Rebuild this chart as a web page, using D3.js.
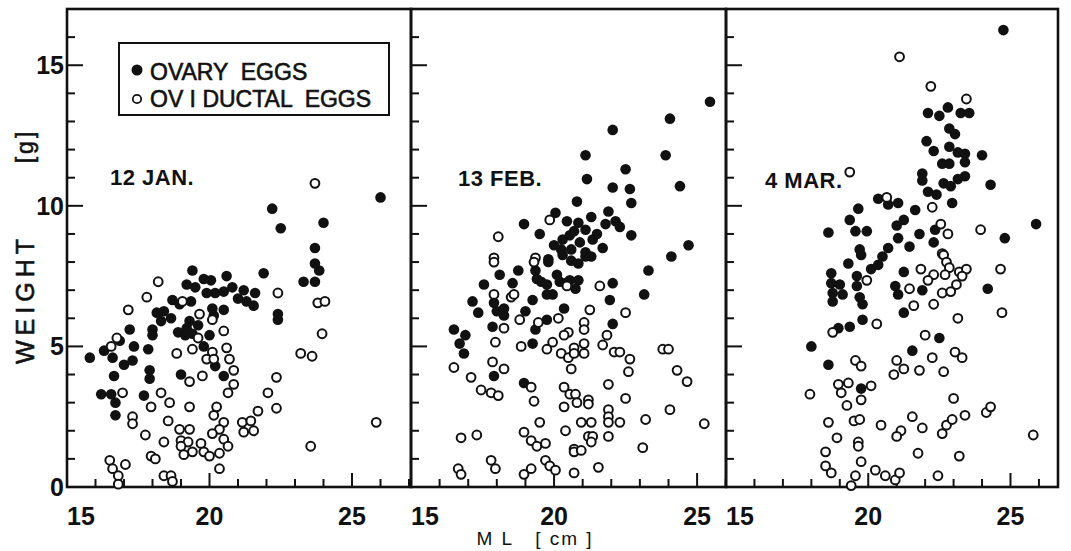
<!DOCTYPE html>
<html>
<head>
<meta charset="utf-8">
<script src="https://cdn.jsdelivr.net/npm/d3@7"></script>
<style>
  body { margin: 0; background: #fff; }
  svg { display: block; }
  text { font-family: "Liberation Sans", Arial, sans-serif; fill: #111; }
  .heavy { stroke: #111; stroke-width: 0.6px; }
</style>
</head>
<body>
<div id="chart"></div>
<script>
// [ML cm, weight g]
var janOvary = [[26.0,10.3],[22.2,9.9],[22.5,9.2],[24.0,9.4],[23.7,8.5],[23.7,7.95],[23.85,7.7],[23.3,7.3],[23.7,7.3],[21.9,7.6],
  [19.4,7.7],[19.2,7.2],[19.5,7.1],[19.8,7.4],[20.05,7.35],[20.6,7.5],[20.8,7.1],[19.9,6.9],[20.2,6.9],[20.5,6.95],[21.2,7.0],
  [21.6,6.9],[21.0,6.7],[21.3,6.6],[21.55,6.45],[18.7,6.65],[18.95,6.5],[19.35,6.6],[18.15,6.2],[18.4,6.25],[18.3,5.9],[18.65,6.0],
  [20.1,6.35],[20.5,6.3],[20.15,6.1],[22.4,6.15],[22.4,5.95],[19.3,5.9],[19.2,5.65],[19.6,5.75],[18.9,5.5],[19.15,5.4],[19.4,5.45],
  [20.0,5.4],[18.0,5.6],[18.0,5.4],[17.2,5.6],[16.85,5.2],[17.35,5.0],[16.3,4.85],[16.6,4.6],[15.8,4.6],[17.85,4.9],[17.3,4.5],
  [17.0,4.35],[19.8,5.0],[20.2,4.3],[17.9,4.15],[17.9,3.85],[16.65,3.95],[19.0,4.0],[20.5,3.95],[16.2,3.3],[16.55,3.3],[16.7,3.0],
  [17.7,3.25],[16.7,2.55]];
var janOviduct = [[23.7,10.8],[18.2,7.3],[17.8,6.75],[17.15,6.3],[19.05,6.6],[19.65,6.15],[20.1,5.95],[20.5,5.55],[19.6,5.3],[19.4,4.9],
  [18.85,4.75],[20.1,4.8],[20.6,4.95],[19.9,4.55],[20.15,4.55],[20.7,4.55],[20.85,4.15],[19.75,3.95],[19.3,3.75],[20.85,3.65],
  [20.65,3.35],[18.3,3.35],[18.6,3.0],[17.95,2.85],[19.3,2.85],[20.25,2.85],[20.15,2.55],[20.5,2.3],[18.55,2.35],[17.3,2.5],
  [17.3,2.25],[17.75,1.85],[16.95,3.35],[16.75,5.3],[16.55,5.0],[18.95,2.05],[19.3,2.05],[20.35,2.05],[20.1,1.9],[18.4,1.6],
  [19.0,1.65],[19.25,1.6],[19.7,1.55],[19.0,1.45],[19.4,1.25],[19.1,1.15],[19.8,1.25],[20.0,1.1],[20.35,1.2],[20.5,1.7],[20.65,1.45],
  [20.35,0.65],[21.15,2.3],[21.45,2.35],[21.2,1.95],[21.55,2.0],[21.7,2.7],[22.05,3.35],[22.35,2.8],[22.35,3.9],[22.4,6.9],
  [23.2,4.75],[23.6,4.65],[23.95,5.45],[23.8,6.55],[24.05,6.6],[23.55,1.45],[25.85,2.3],[16.5,0.95],[16.6,0.65],[17.05,0.8],
  [16.8,0.4],[16.8,0.1],[17.95,1.1],[18.1,1.0],[18.4,0.4],[18.65,0.4],[18.7,0.2]];

var febOvary = [[25.45,13.7],[24.05,13.1],[22.05,12.7],[21.1,11.8],[23.9,11.8],[22.5,11.3],[21.15,10.95],[22.05,10.65],[22.65,10.6],
  [24.4,10.7],[22.7,10.1],[20.8,10.15],[20.05,9.75],[18.95,9.35],[19.5,9.0],[20.45,9.45],[20.85,9.4],[21.3,9.6],[21.9,9.8],[22.15,9.45],
  [22.3,9.25],[22.7,8.95],[21.8,9.35],[21.1,9.15],[20.55,8.95],[21.35,8.8],[21.7,8.5],[20.25,8.45],[20.6,8.45],[21.1,8.35],[24.7,8.6],
  [24.1,8.2],[19.8,8.1],[23.3,7.7],[23.15,6.85],[22.05,7.25],[21.95,6.65],[22.05,5.8],[19.8,8.0],[20.3,8.25],[20.6,8.05],[20.85,7.95],
  [21.1,8.2],[19.35,7.7],[19.4,7.4],[19.55,7.3],[19.75,7.2],[20.1,7.55],[20.2,7.3],[20.4,7.25],[20.55,7.35],[20.75,7.05],[20.85,7.35],
  [19.75,6.85],[19.95,6.85],[18.75,7.7],[18.55,7.25],[18.1,7.55],[17.55,7.2],[17.15,6.6],[17.35,6.2],[17.9,6.55],[18.0,6.25],
  [18.25,6.35],[18.25,6.1],[19.25,6.65],[19.0,6.25],[19.75,5.95],[19.35,5.6],[20.35,6.35],[17.85,5.7],[16.5,5.6],[16.9,5.4],
  [16.7,5.1],[16.85,4.75],[19.25,5.1],[17.9,3.95],[18.95,3.7],[20.3,8.8],[20.9,8.7],[21.5,9.0],[20.7,9.1],[21.3,8.2],[20.0,8.6]];
var febOviduct = [[19.85,9.5],[18.05,8.9],[17.9,8.15],[19.35,8.15],[17.9,8.0],[19.3,8.0],[21.6,7.15],[20.45,7.15],[17.9,6.85],
  [18.5,6.75],[18.6,6.85],[21.25,6.3],[22.5,6.2],[18.8,5.95],[20.15,6.0],[19.45,5.85],[21.05,5.85],[21.05,5.6],[18.25,5.65],[20.5,5.5],
  [20.35,5.4],[21.85,5.4],[19.95,5.15],[17.95,5.15],[18.85,5.0],[21.05,5.1],[21.7,5.05],[20.7,4.95],[19.75,4.9],[22.1,4.8],[22.3,4.8],
  [20.25,4.75],[20.5,4.6],[20.7,4.75],[21.05,4.75],[22.65,4.55],[23.8,4.9],[24.0,4.9],[17.85,4.45],[18.25,4.2],[16.5,4.25],[20.6,4.2],
  [22.6,4.1],[24.3,4.15],[24.65,3.75],[17.1,3.9],[17.45,3.45],[17.8,3.35],[18.05,3.25],[19.2,3.55],[19.3,3.05],[20.35,3.55],
  [20.55,3.3],[20.75,3.3],[20.8,3.0],[21.2,3.1],[21.2,2.95],[21.9,3.65],[22.5,3.15],[20.35,2.85],[21.9,2.75],[21.9,2.5],[21.9,2.3],
  [22.3,2.3],[23.2,2.4],[24.05,2.75],[25.25,2.25],[20.95,2.3],[21.3,2.3],[19.5,2.3],[18.95,1.95],[20.4,2.0],[21.2,1.8],[21.35,1.8],
  [21.3,1.6],[21.9,1.8],[19.2,1.65],[19.4,1.45],[19.7,1.55],[20.7,1.35],[20.7,1.25],[20.95,1.3],[23.1,1.4],[16.75,1.75],[17.3,1.85],
  [17.8,0.95],[17.95,0.65],[16.65,0.65],[16.75,0.45],[18.95,0.45],[19.2,0.65],[19.7,0.95],[19.85,0.75],[20.05,0.6],[20.7,0.5],[21.55,0.7]];

var marOvary = [[24.75,16.25],[22.1,13.3],[22.5,13.2],[22.8,13.5],[23.25,13.3],[23.55,13.3],[22.85,12.75],[23.05,12.55],[22.05,12.3],
  [22.3,11.95],[22.85,12.1],[23.15,11.9],[23.4,11.85],[24.0,11.8],[22.6,11.5],[22.85,11.5],[23.4,11.55],[21.9,11.15],[21.9,10.9],
  [22.65,10.8],[22.9,10.7],[23.15,10.95],[23.4,11.05],[24.3,10.75],[22.1,10.5],[22.4,10.4],[22.95,10.1],[20.35,10.25],[20.7,10.05],
  [21.05,10.1],[21.65,9.85],[19.65,9.9],[19.35,9.5],[18.6,9.05],[19.55,9.1],[19.95,9.1],[21.25,9.5],[21.0,9.3],[21.05,8.85],[21.8,9.0],
  [22.35,9.15],[22.3,8.7],[21.45,8.55],[20.7,8.5],[19.7,8.45],[24.8,8.85],[25.9,9.35],[19.75,8.25],[20.5,8.2],[19.3,7.95],[20.1,7.75],
  [20.35,7.9],[18.7,7.6],[18.7,7.25],[19.0,7.2],[18.75,6.9],[19.1,6.85],[18.75,6.6],[19.6,7.5],[19.6,7.15],[19.7,6.75],[19.8,6.5],
  [21.25,7.65],[20.95,7.15],[21.05,6.85],[21.9,7.0],[21.25,6.2],[24.2,7.05],[19.8,5.95],[19.35,5.7],[18.95,5.65],[18.0,5.0],[18.6,4.35],
  [21.55,4.85],[22.5,5.3],[19.75,3.5]];
var marOviduct = [[21.1,15.3],[22.2,14.25],[23.45,13.8],[19.35,11.2],[20.65,10.3],[22.25,9.95],[22.55,9.35],[22.8,9.0],[23.95,9.15],
  [22.6,8.3],[22.65,8.25],[22.75,8.0],[22.85,7.8],[23.2,7.65],[23.45,7.75],[23.3,7.5],[22.7,7.55],[22.3,7.55],[22.1,7.35],[21.85,7.75],
  [21.45,7.05],[22.6,6.9],[22.9,6.95],[23.1,7.2],[24.65,7.75],[24.7,6.2],[19.95,7.35],[21.6,6.45],[22.3,6.5],[23.15,6.0],[20.3,5.8],
  [18.75,5.5],[22.0,5.4],[23.05,4.8],[23.3,4.6],[22.25,4.6],[21.0,4.5],[21.25,4.2],[21.8,4.15],[20.9,4.0],[22.65,4.1],[19.55,4.5],
  [19.75,4.3],[18.95,3.65],[19.3,3.7],[19.05,3.35],[20.1,3.6],[17.95,3.3],[19.75,3.1],[19.25,2.9],[23.0,3.15],[24.15,2.65],[24.3,2.85],
  [18.6,2.3],[19.5,2.35],[19.7,2.4],[20.45,2.2],[21.55,2.5],[21.9,2.1],[22.75,2.2],[22.95,2.4],[23.4,2.55],[22.6,1.9],[21.15,2.0],
  [21.0,1.8],[25.8,1.85],[18.9,1.75],[19.65,1.6],[19.65,1.45],[18.5,1.25],[21.75,1.2],[23.2,1.1],[19.75,0.9],[18.5,0.75],[18.7,0.5],
  [19.55,0.4],[20.25,0.6],[20.6,0.4],[20.95,0.25],[21.1,0.5],[22.45,0.4],[19.4,0.05]];

var panelLabels = ["12 JAN.", "13 FEB.", "4 MAR."];
var xTickLabels = [15, 20, 25];
var yTickLabels = [0, 5, 10, 15];
var legendLabels = ["OVARY  EGGS", "OV I DUCTAL  EGGS"];

var width = 1071, height = 551;
var plotTop = 9, plotBottom = 487;

var svg = d3.select("#chart").append("svg")
  .attr("width", width).attr("height", height);

var y = d3.scaleLinear().domain([0, 17]).range([plotBottom, plotTop]);

// pixel extents of each panel (they share their borders)
var panels = [
  {x0: 67,  x1: 411,  xmax: 27.07, ovary: janOvary, oviduct: janOviduct, label: panelLabels[0], lx: 110, ly: 185},
  {x0: 411, x1: 726,  xmax: 26.01, ovary: febOvary, oviduct: febOviduct, label: panelLabels[1], lx: 458, ly: 186},
  {x0: 726, x1: 1058, xmax: 26.67, ovary: marOvary, oviduct: marOviduct, label: panelLabels[2], lx: 765, ly: 188}
];

panels.forEach(function(p, i){
  var x = d3.scaleLinear().domain([15, p.xmax]).range([p.x0, p.x1]);
  var g = svg.append("g");

  // ticks point inward
  var xt = d3.range(16, Math.floor(p.xmax) + 1);
  g.selectAll(".xt").data(xt).enter().append("line")
    .attr("x1", function(d){ return x(d); }).attr("x2", function(d){ return x(d); })
    .attr("y1", plotBottom).attr("y2", function(d){ return plotBottom - (d % 5 == 0 ? 14 : 8); })
    .attr("stroke", "#111").attr("stroke-width", 2);

  var yt = d3.range(1, 17);
  g.selectAll(".yt").data(yt).enter().append("line")
    .attr("x1", p.x0).attr("x2", function(d){ return p.x0 + (d % 5 == 0 ? 16 : 8); })
    .attr("y1", function(d){ return y(d); }).attr("y2", function(d){ return y(d); })
    .attr("stroke", "#111").attr("stroke-width", 2);

  g.append("rect")
    .attr("x", p.x0).attr("y", plotTop)
    .attr("width", p.x1 - p.x0).attr("height", plotBottom - plotTop)
    .attr("fill", "none").attr("stroke", "#111").attr("stroke-width", 2.6);

  g.selectAll(".xl").data(xTickLabels).enter().append("text")
    .attr("x", function(d){ return d == 15 ? p.x0 : x(d); })
    .attr("y", 525)
    .attr("text-anchor", function(d){ return d == 15 ? "start" : "middle"; })
    .style("font-size", "25px").style("font-weight", "bold")
    .text(function(d){ return d; });

  g.selectAll(".ov").data(p.ovary).enter().append("circle")
    .attr("cx", function(d){ return x(d[0]); })
    .attr("cy", function(d){ return y(d[1]); })
    .attr("r", 5.3).attr("fill", "#111");

  g.selectAll(".od").data(p.oviduct).enter().append("circle")
    .attr("cx", function(d){ return x(d[0]); })
    .attr("cy", function(d){ return y(d[1]); })
    .attr("r", 4.4).attr("fill", "#fff")
    .attr("stroke", "#111").attr("stroke-width", 2);

  g.append("text")
    .attr("x", p.lx).attr("y", p.ly)
    .style("font-size", "22px").style("font-weight", "bold")
    .style("letter-spacing", "0.5px")
    .text(p.label);
});

// y tick labels
svg.selectAll(".yl").data(yTickLabels).enter().append("text")
  .attr("x", 64).attr("y", function(d){ return y(d) + 9; })
  .attr("text-anchor", "end")
  .style("font-size", "25px").style("font-weight", "bold")
  .text(function(d){ return d; });

// axis titles
svg.append("text")
  .attr("class", "heavy")
  .attr("transform", "translate(34,299) rotate(-90)")
  .attr("text-anchor", "middle")
  .style("font-size", "25px").style("letter-spacing", "5px")
  .text("WEIGHT");
svg.append("text")
  .attr("class", "heavy")
  .attr("transform", "translate(33,146) rotate(-90)")
  .attr("text-anchor", "middle")
  .style("font-size", "23px").style("letter-spacing", "3px")
  .text("[g]");
svg.append("text")
  .attr("x", 535).attr("y", 545)
  .attr("text-anchor", "middle")
  .style("font-size", "19px").style("white-space", "pre")
  .style("letter-spacing", "2px")
  .text("M L   [ cm ]");

// legend
var leg = svg.append("g");
leg.append("rect")
  .attr("x", 119).attr("y", 43).attr("width", 270).attr("height", 72)
  .attr("fill", "#fff").attr("stroke", "#111").attr("stroke-width", 2);
leg.append("circle").attr("cx", 137).attr("cy", 70).attr("r", 5.5).attr("fill", "#111");
leg.append("circle").attr("cx", 137).attr("cy", 99).attr("r", 4.2).attr("fill", "#fff")
  .attr("stroke", "#111").attr("stroke-width", 1.8);
leg.selectAll(".lt").data(legendLabels).enter().append("text")
  .attr("class", "heavy")
  .attr("x", 150).attr("y", function(d, i){ return 80 + i * 27; })
  .style("font-size", "23px").style("white-space", "pre")
  .text(function(d){ return d; });
</script>
</body>
</html>
